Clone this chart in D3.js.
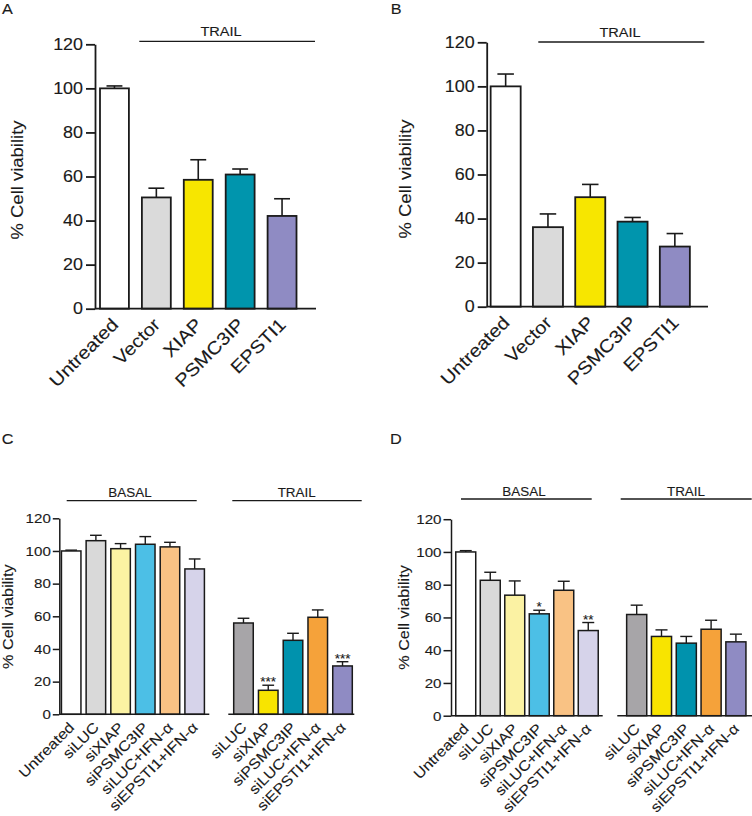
<!DOCTYPE html>
<html><head><meta charset="utf-8">
<script src="https://cdn.jsdelivr.net/npm/d3@7"></script>
<style>
body{margin:0;background:#fff}
svg{display:block;background:#fff}
text{font-family:"Liberation Sans",Arial,Helvetica,sans-serif;fill:#1a1a1a;stroke:#1a1a1a;stroke-width:0.12px}
</style>
</head><body>
<svg id="chart" width="752" height="816"></svg>
<script>
// ---------------- DATA ----------------
const yTicks = [0, 20, 40, 60, 80, 100, 120];
const yLabelText = "% Cell viability";

const catsAB = ["Untreated", "Vector", "XIAP", "PSMC3IP", "EPSTI1"];
const colorsAB = ["#ffffff", "#dadada", "#f7e600", "#0095ad", "#8f8bc3"];
const valuesA = [100, 50.5, 58.5, 60.9, 42.1];
const errorsA = [1.1, 4.2, 9.1, 2.5, 7.8];
const valuesB = [100, 36.1, 49.7, 38.6, 27.3];
const errorsB = [5.6, 6.0, 5.8, 1.9, 5.9];

const catsBasal = ["Untreated", "siLUC", "siXIAP", "siPSMC3IP", "siLUC+IFN-α", "siEPSTI1+IFN-α"];
const colorsBasal = ["#ffffff", "#d9d9d9", "#fbf2a3", "#4cbfe6", "#f9c284", "#d6d3ea"];
const catsTrail = ["siLUC", "siXIAP", "siPSMC3IP", "siLUC+IFN-α", "siEPSTI1+IFN-α"];
const colorsTrail = ["#a7a5a8", "#f8e400", "#0092ad", "#f5a23a", "#8f8bc3"];

const valuesCBasal = [100, 106.3, 101.4, 104.1, 102.5, 89.0];
const errorsCBasal = [0.5, 3.3, 3.1, 4.7, 2.8, 6.1];
const sigCBasal = ["", "", "", "", "", ""];
const valuesCTrail = [55.9, 14.7, 45.3, 59.4, 29.6];
const errorsCTrail = [2.9, 3.1, 4.3, 4.5, 2.6];
const sigCTrail = ["", "***", "", "", "***"];

const valuesDBasal = [100, 82.7, 73.6, 62.2, 76.6, 52.0];
const errorsDBasal = [0.8, 4.9, 8.7, 2.2, 5.5, 4.9];
const sigDBasal = ["", "", "", "*", "", "**"];
const valuesDTrail = [61.8, 48.4, 44.3, 52.8, 45.1];
const errorsDTrail = [5.7, 4.0, 4.1, 5.5, 4.7];
const sigDTrail = ["", "", "", "", ""];

// ---------------- DRAWING ----------------
const svg = d3.select("#chart");
const INK = "#1a1a1a";
const SX = 1.12; // horizontal stretch of the original lettering

function panel(cfg) {
  const g = svg.append("g");
  const y = d3.scaleLinear().domain([0, 120]).range([cfg.y0, cfg.y120]);

  // panel letter
  g.append("text").text(cfg.letter)
    .attr("transform", `translate(${cfg.letterPos[0]},${cfg.letterPos[1]}) scale(${SX},1)`)
    .attr("font-size", 14.5);

  // y axis
  const ya = g.append("g").attr("transform", `translate(${cfg.axisX},0)`)
    .call(d3.axisLeft(y).tickValues(yTicks).tickSize(cfg.tickLen).tickPadding(cfg.tickPad).tickSizeOuter(0));
  ya.select(".domain").attr("stroke", INK).attr("stroke-width", cfg.sw);
  ya.selectAll(".tick line").attr("stroke", INK).attr("stroke-width", cfg.sw);
  ya.selectAll(".tick text").attr("font-size", cfg.tickFont).attr("fill", INK)
    .style("font-family", '"Liberation Sans",Arial,sans-serif')
    .each(function () {
      const t = d3.select(this); const x = +t.attr("x");
      t.attr("x", 0).attr("transform", `translate(${x},0) scale(${SX},1)`);
    });

  // y label
  g.append("text").text(yLabelText)
    .attr("text-anchor", "middle").attr("dominant-baseline", "central")
    .attr("font-size", cfg.yLabFont)
    .attr("transform", `translate(${cfg.yLabPos[0]},${cfg.yLabPos[1]}) rotate(-90) scale(${SX},1)`);

  cfg.groups.forEach(grp => {
    const x = d3.scaleBand().domain(grp.cats).range(grp.range)
      .paddingInner(grp.pad).paddingOuter(grp.pad / 2);
    const bw = x.bandwidth();
    const rows = grp.cats.map((c, i) => ({ c, v: grp.values[i], e: grp.errors[i], col: grp.colors[i], s: grp.sig ? grp.sig[i] : "" }));

    // error bars (upper only)
    const eb = g.append("g").attr("stroke", INK).attr("stroke-width", cfg.ebw);
    eb.selectAll(".v").data(rows).join("line")
      .attr("x1", d => x(d.c) + bw / 2).attr("x2", d => x(d.c) + bw / 2)
      .attr("y1", d => y(d.v)).attr("y2", d => y(d.v + d.e));
    eb.selectAll(".cap").data(rows).join("line")
      .attr("x1", d => x(d.c) + bw / 2 - bw * cfg.cap / 2).attr("x2", d => x(d.c) + bw / 2 + bw * cfg.cap / 2)
      .attr("y1", d => y(d.v + d.e)).attr("y2", d => y(d.v + d.e));

    // bars
    g.append("g").selectAll("rect").data(rows).join("rect")
      .attr("x", d => x(d.c)).attr("width", bw)
      .attr("y", d => y(d.v)).attr("height", d => y(0) - y(d.v))
      .attr("fill", d => d.col).attr("stroke", INK).attr("stroke-width", cfg.sw);

    // significance
    g.append("g").selectAll("text").data(rows.filter(d => d.s)).join("text")
      .text(d => d.s).attr("text-anchor", "middle").attr("font-size", cfg.sigFont)
      .attr("x", d => x(d.c) + bw / 2).attr("y", d => y(d.v + d.e) + cfg.sigOff);

    // baseline
    g.append("line").attr("x1", grp.line[0]).attr("x2", grp.line[1])
      .attr("y1", y(0)).attr("y2", y(0)).attr("stroke", INK).attr("stroke-width", cfg.sw);

    // category labels
    const xa = g.append("g").attr("transform", `translate(0,${y(0)})`)
      .call(d3.axisBottom(x).tickSize(0).tickPadding(0));
    xa.select(".domain").remove();
    xa.selectAll(".tick text")
      .attr("x", 0).attr("y", 0).attr("dy", 0)
      .attr("text-anchor", "end").attr("font-size", cfg.xFont).attr("fill", INK)
      .style("font-family", '"Liberation Sans",Arial,sans-serif')
      .attr("transform", `translate(${cfg.xLabOff[0]},${cfg.xLabOff[1]}) rotate(-45) scale(${SX},1)`);

    // group label
    if (grp.label) {
      g.append("line").attr("x1", grp.label.x1).attr("x2", grp.label.x2)
        .attr("y1", grp.label.y).attr("y2", grp.label.y)
        .attr("stroke", INK).attr("stroke-width", 1.3);
      g.append("text").text(grp.label.text).attr("text-anchor", "middle")
        .attr("font-size", cfg.grpFont)
        .attr("transform", `translate(${grp.label.tx},${grp.label.y - cfg.grpGap}) scale(${SX},1)`);
    }
  });
}

// Panel A
panel({
  letter: "A", letterPos: [2, 13.5],
  axisX: 95, y0: 308.7, y120: 44.3, tickLen: 9, tickPad: 3, tickFont: 16,
  yLabFont: 16.5, yLabPos: [17.5, 180], xFont: 18, xLabOff: [5, 17],
  sw: 1.8, ebw: 1.6, cap: 0.55, sigFont: 13, sigOff: -1, grpFont: 13, grpGap: 5.6,
  groups: [{
    cats: catsAB, values: valuesA, errors: errorsA, colors: colorsAB,
    range: [93.5, 303], pad: 0.31, line: [95, 316],
    label: { text: "TRAIL", x1: 139.3, x2: 315, y: 41.3, tx: 221 }
  }]
});

// Panel B
panel({
  letter: "B", letterPos: [390.7, 13.5],
  axisX: 486.7, y0: 306.7, y120: 42.3, tickLen: 9, tickPad: 3, tickFont: 16,
  yLabFont: 16.5, yLabPos: [405.5, 179], xFont: 18, xLabOff: [5, 17],
  sw: 1.8, ebw: 1.6, cap: 0.55, sigFont: 13, sigOff: -1, grpFont: 13, grpGap: 5.4,
  groups: [{
    cats: catsAB, values: valuesB, errors: errorsB, colors: colorsAB,
    range: [484.5, 696], pad: 0.29, line: [486.7, 708],
    label: { text: "TRAIL", x1: 538.3, x2: 704.3, y: 42, tx: 620 }
  }]
});

// Panel C
panel({
  letter: "C", letterPos: [1.7, 444.3],
  axisX: 59.3, y0: 714.3, y120: 518.3, tickLen: 6.5, tickPad: 2, tickFont: 13.5,
  yLabFont: 14.5, yLabPos: [8, 616.7], xFont: 14.5, xLabOff: [4, 14],
  sw: 1.5, ebw: 1.4, cap: 0.6, sigFont: 13.5, sigOff: 1, grpFont: 12, grpGap: 3.4,
  groups: [{
    cats: catsBasal, values: valuesCBasal, errors: errorsCBasal, colors: colorsBasal, sig: sigCBasal,
    range: [58.85, 207], pad: 0.21, line: [59.3, 209.3],
    label: { text: "BASAL", x1: 66.7, x2: 196.7, y: 500.7, tx: 130 }
  }, {
    cats: catsTrail, values: valuesCTrail, errors: errorsCTrail, colors: colorsTrail, sig: sigCTrail,
    range: [231.1, 354.9], pad: 0.21, line: [228.3, 354.3],
    label: { text: "TRAIL", x1: 232.3, x2: 361.7, y: 500.7, tx: 296.7 }
  }]
});

// Panel D
panel({
  letter: "D", letterPos: [390, 444.3],
  axisX: 451, y0: 715.7, y120: 519.2, tickLen: 7.5, tickPad: 2, tickFont: 13.5,
  yLabFont: 14.5, yLabPos: [404, 617.5], xFont: 14.5, xLabOff: [4, 14],
  sw: 1.5, ebw: 1.4, cap: 0.6, sigFont: 13.5, sigOff: 1, grpFont: 12, grpGap: 3,
  groups: [{
    cats: catsBasal, values: valuesDBasal, errors: errorsDBasal, colors: colorsBasal, sig: sigDBasal,
    range: [453.5, 600.5], pad: 0.185, line: [451, 602.7],
    label: { text: "BASAL", x1: 461, x2: 591.7, y: 499, tx: 524 }
  }, {
    cats: catsTrail, values: valuesDTrail, errors: errorsDTrail, colors: colorsTrail, sig: sigDTrail,
    range: [624.3, 748.3], pad: 0.19, line: [617.3, 752],
    label: { text: "TRAIL", x1: 620.7, x2: 751.7, y: 499, tx: 686 }
  }]
});
</script>
</body></html>
